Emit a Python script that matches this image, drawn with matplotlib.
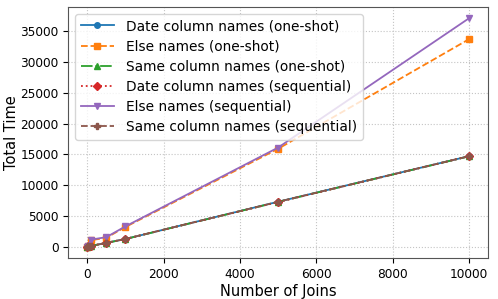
import matplotlib
matplotlib.use("Agg")
import matplotlib.pyplot as plt

joins = [1, 10, 100, 500, 1000, 5000, 10000]

date_oneshot = [10, 40, 120, 620, 1250, 7300, 14700]
else_oneshot = [20, 60, 1050, 1450, 3200, 15900, 33700]
same_oneshot = [10, 40, 120, 610, 1240, 7280, 14680]
date_seq = [15, 45, 130, 630, 1260, 7250, 14700]
else_seq = [25, 70, 1150, 1550, 3300, 16100, 37100]
same_seq = [12, 42, 125, 615, 1255, 7290, 14690]

labels = ["Date column names (one-shot)", "Else names (one-shot)",
          "Same column names (one-shot)", "Date column names (sequential)",
          "Else names (sequential)", "Same column names (sequential)"]
series = [date_oneshot, else_oneshot, same_oneshot, date_seq, else_seq, same_seq]
styles = ["-", "--", "-.", ":", "-", "--"]
markers = ["o", "s", "^", "D", "v", "P"]

fig, ax = plt.subplots(figsize=(4.98, 2.99), dpi=100)
for i, (s, lab) in enumerate(zip(series, labels)):
    ax.plot(joins, s, linestyle=styles[i], marker=markers[i], markersize=4,
            linewidth=1.3, color="C%d" % i, label=lab)

ax.set_xlabel("Number of Joins", fontsize=10.5, labelpad=2)
ax.set_ylabel("Total Time", fontsize=10.5, labelpad=1)
ax.tick_params(labelsize=8.7)
ax.grid(True, linestyle=":", color="#c4c4c4", linewidth=0.8)
ax.legend(loc="upper left", fontsize=9.9, handlelength=2.4, handletextpad=0.9,
          labelspacing=0.45, borderpad=0.4)
for sp in ax.spines.values():
    sp.set_color("#555555")

fig.subplots_adjust(left=0.137, right=0.98, top=0.977, bottom=0.137)
fig.savefig("out.png", dpi=100)
